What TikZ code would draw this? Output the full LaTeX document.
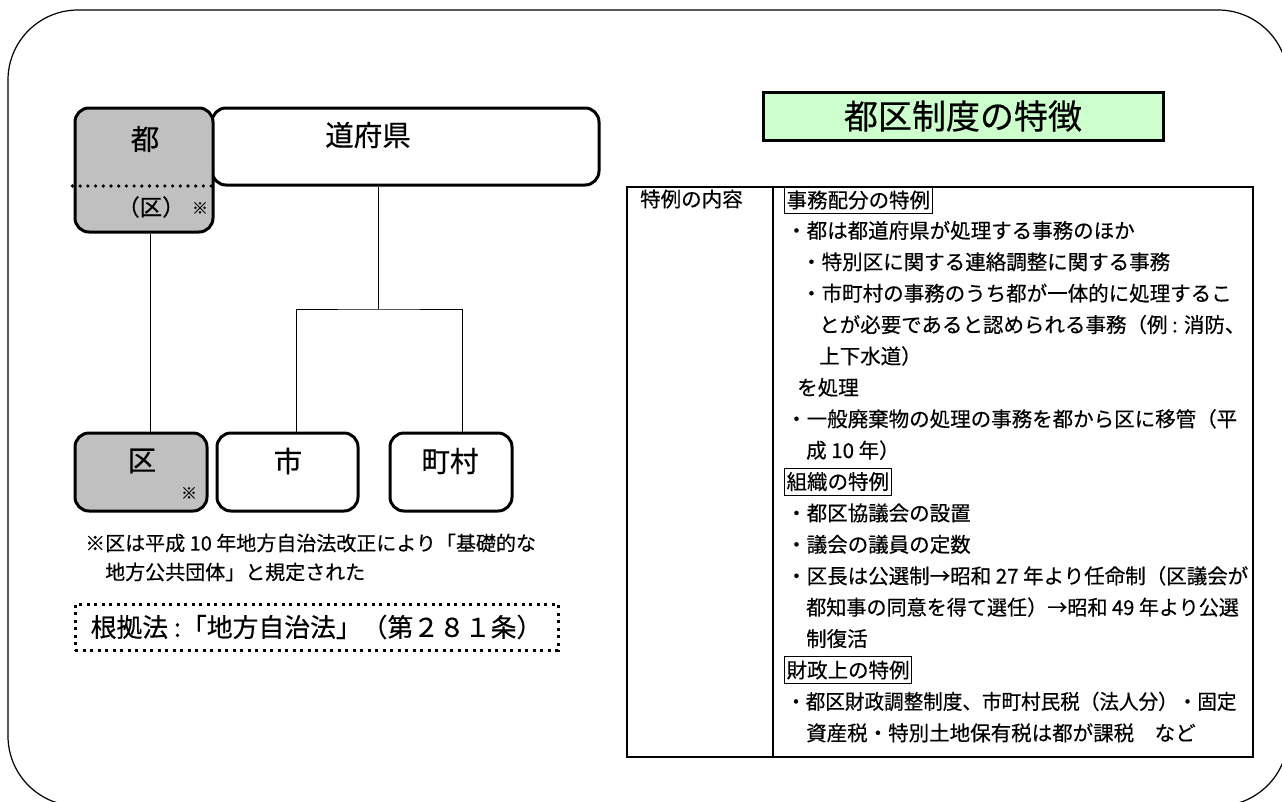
\documentclass[tikz,border=0pt]{standalone}
\usepackage{fontspec}
\newfontfamily\jp[FakeBold=0.4]{Noto Sans CJK JP}
\definecolor{kgray}{HTML}{C0C0C0}
\definecolor{kgreen}{HTML}{CCFFCC}
\newcommand{\fs}[1]{\fontsize{#1pt}{#1pt}\selectfont}
\begin{document}
\begin{tikzpicture}[x=1pt,y=-1pt,
  every node/.style={font=\jp, inner sep=0pt},
  orgbox/.style={draw, line width=3pt, rounded corners=14pt, fill=white},
  bigtxt/.style={font=\jp\fs{28.5}},
  conn/.style={line width=1pt},
  tline/.style={anchor=west, font=\jp\fs{20.5}},
  hbox/.style={anchor=west, draw, line width=1.2pt, inner xsep=2pt, minimum height=27pt, font=\jp\fs{20.5}},
  dotline/.style={line width=3.6pt, line cap=round, dash pattern=on 0pt off 7.7pt},
  sqdots/.style={line width=3pt, dash pattern=on 3pt off 4.5pt}
]
\useasboundingbox (0,0) rectangle (1282,801);
\begin{scope}
\clip (0,0) rectangle (1282,801);
\draw[line width=1.2pt, rounded corners=70pt] (8,10) rectangle (1288,806);
\end{scope}

% organisation chart
\node[orgbox, minimum width=387pt, minimum height=77pt] (dfk) at (405.5,146.5) {};
\node[orgbox, fill=kgray, minimum width=138pt, minimum height=124pt] (to) at (144,170) {};
\node[bigtxt] (dfkt) at (368,135) {道府県};
\node[bigtxt] (tot) at (145,139) {都};
\draw[dotline] ([xshift=-1pt]to.west |- 0,186) -- (to.east |- 0,186);
\node[font=\jp\fs{22.5}] (tokut) at (151,207) {（区）};
\node[font=\jp\fs{16}] (tokm) at (200,208) {※};

\node[orgbox, fill=kgray, minimum width=132pt, minimum height=78pt] (ku) at (141,472) {};
\node[orgbox, minimum width=141pt, minimum height=78pt] (shi) at (287.5,472) {};
\node[orgbox, minimum width=122pt, minimum height=78pt] (cho) at (451,472) {};
\node[bigtxt] (kut) at (142,461) {区};
\node[font=\jp\fs{16}] (kum) at (189,493) {※};
\node[bigtxt] (shit) at (288,461) {市};
\node[bigtxt] (chot) at (450,461) {町村};

\coordinate (c1) at (150,0);
\coordinate (j) at (378,309);
\draw[conn] (c1 |- to.south) -- (c1 |- ku.north);
\draw[conn] (j |- dfk.south) -- (j);
\draw[conn] ([xshift=8.5pt]shi.north) |- (j) -| ([xshift=11pt]cho.north);

\node[anchor=west, font=\jp\fs{20}] (fn1) at (85,543) {※区は平成 10 年地方自治法改正により「基礎的な};
\node[anchor=west, font=\jp\fs{20}] (fn2) at (105,572) {地方公共団体」と規定された};

\node[sqdots, draw, minimum width=483pt, minimum height=46pt, font=\jp\fs{25.8}] (kk) at (316.5,627) {根拠法 :「地方自治法」（第２８１条）};

% title
\node[draw, line width=3pt, fill=kgreen, minimum width=400pt, minimum height=48pt, font=\jp\fs{34}] (title) at (963,116) {都区制度の特徴};

% table
\node[draw, line width=1.6pt, minimum width=626pt, minimum height=570pt] (tbl) at (940,472) {};
\coordinate (dv) at (773,0);
\draw[line width=2.2pt] (dv |- tbl.north) -- (dv |- tbl.south);
\node[tline] (h0) at (640,199) {特例の内容};

\node[hbox] (t0) at (784,200) {事務配分の特例};
\node[tline] (t1) at (786,230.4) {・都は都道府県が処理する事務のほか};
\node[tline] (t2) at (801,261.8) {・特別区に関する連絡調整に関する事務};
\node[tline] (t3) at (801,293.2) {・市町村の事務のうち都が一体的に処理するこ};
\node[tline] (t4) at (819,324.6) {とが必要であると認められる事務（例 : 消防、};
\node[tline] (t5) at (819,356) {上下水道）};
\node[tline] (t6) at (797,387.4) {を処理};
\node[tline] (t7) at (786,418.8) {・一般廃棄物の処理の事務を都から区に移管（平};
\node[tline] (t8) at (806,450.2) {成 10 年）};
\node[hbox] (t9) at (784,481.6) {組織の特例};
\node[tline] (t10) at (786,513) {・都区協議会の設置};
\node[tline] (t11) at (786,544.4) {・議会の議員の定数};
\node[tline] (t12) at (786,575.8) {・区長は公選制→昭和 27 年より任命制（区議会が};
\node[tline] (t13) at (806,607.2) {\scalebox{0.98}[1]{都知事の同意を得て選任）→昭和 49 年より公選}};
\node[tline] (t14) at (806,638.6) {制復活};
\node[hbox] (t15) at (784,670) {財政上の特例};
\node[tline] (t16) at (786,701.4) {\scalebox{0.955}[1]{・都区財政調整制度、市町村民税（法人分）・固定}};
\node[tline] (t17) at (806,732.8) {資産税・特別土地保有税は都が課税　など};
\end{tikzpicture}
\end{document}
